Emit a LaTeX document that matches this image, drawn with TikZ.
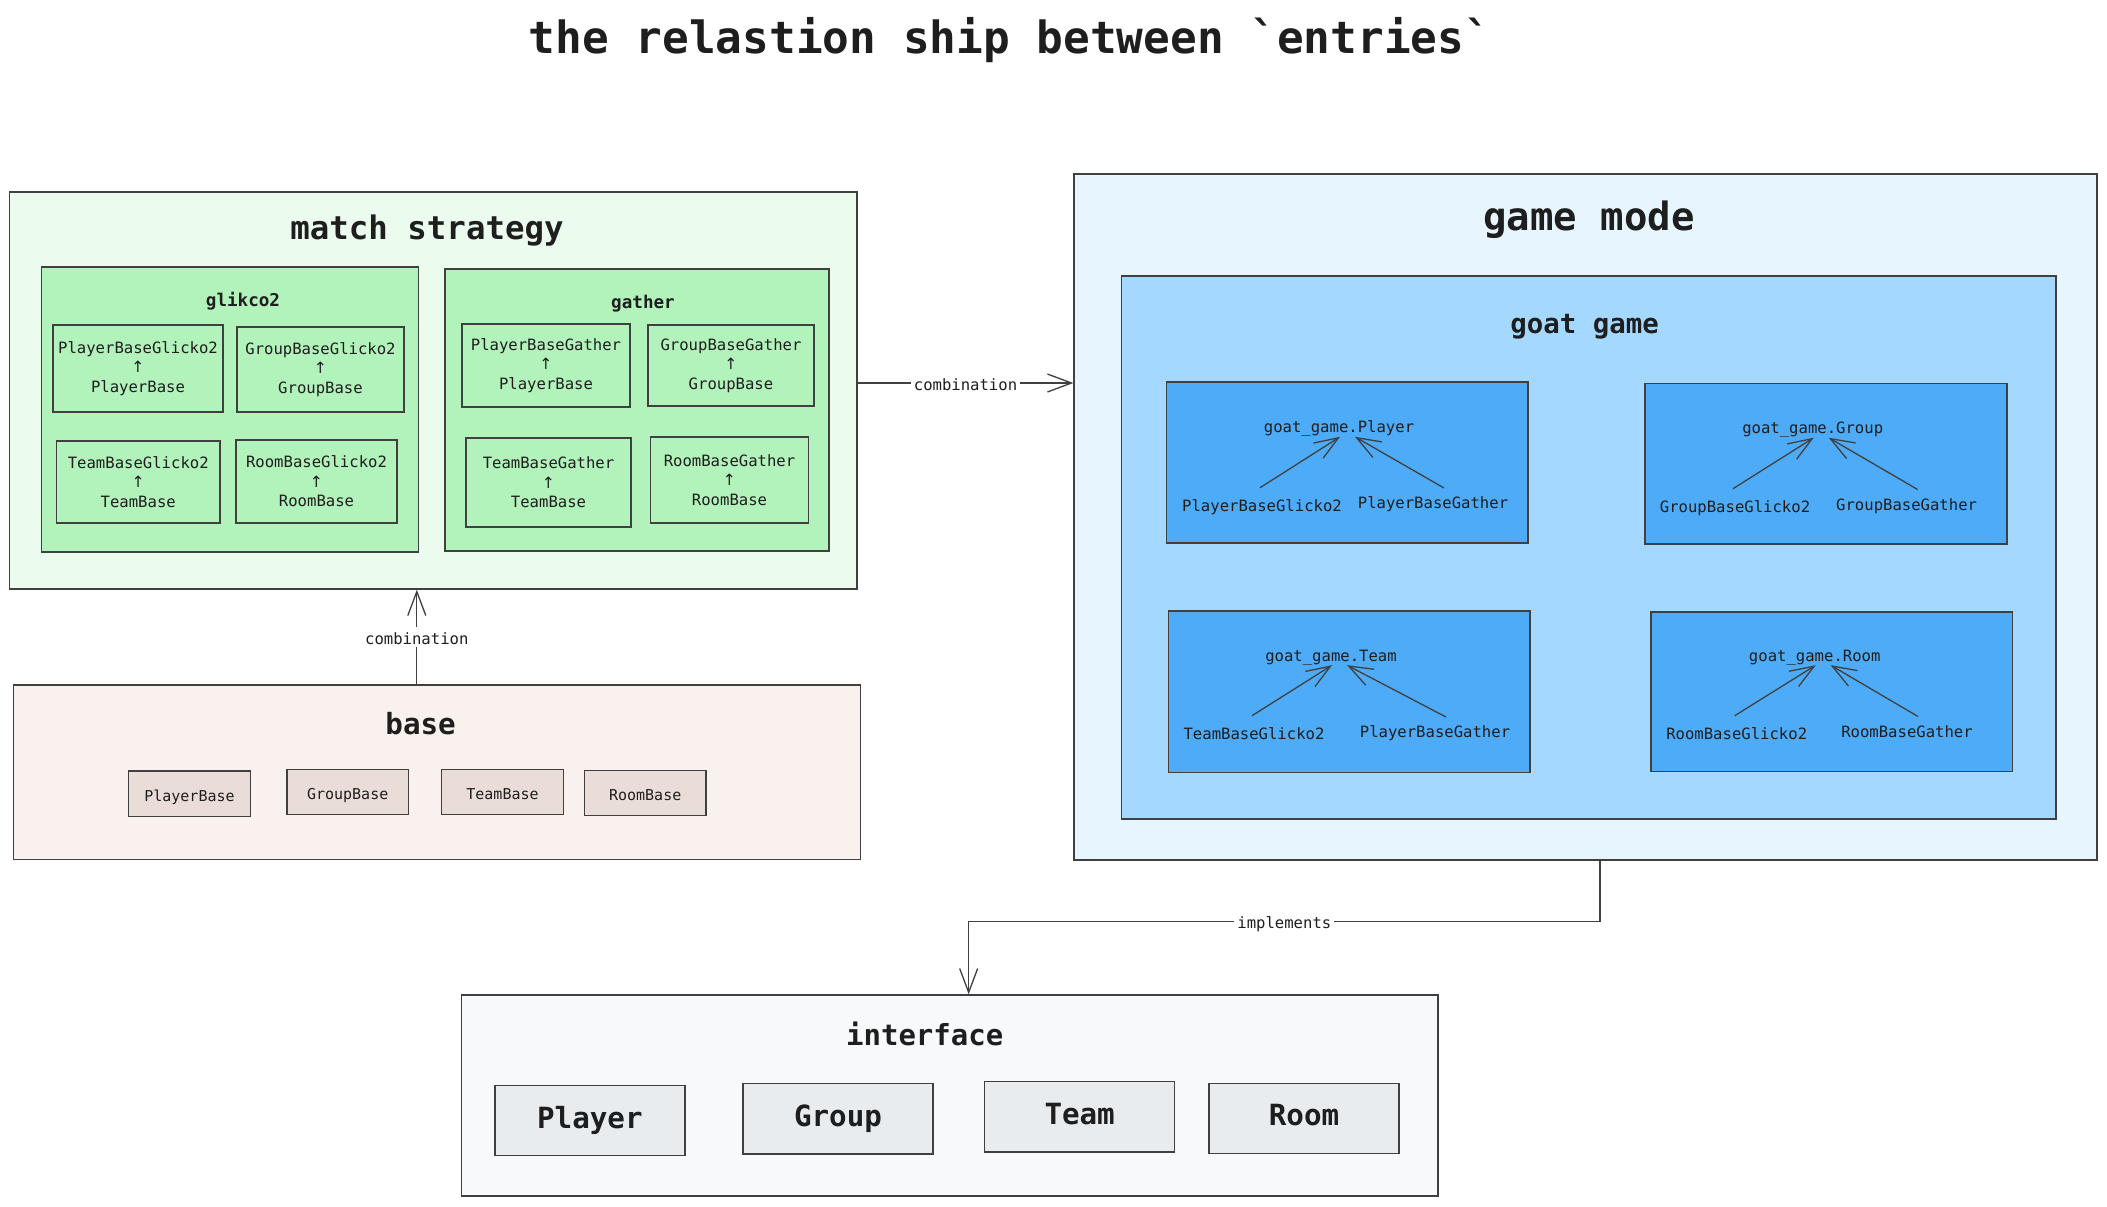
\documentclass[tikz,border=0pt]{standalone}
\usepackage{fontspec}
\setmonofont{DejaVu Sans Mono}
\renewcommand{\familydefault}{\ttdefault}
\newfontfamily\arrowfont{DejaVu Sans}
\newcommand{\uparr}{{\arrowfont ↑}}
\usetikzlibrary{arrows.meta}
\definecolor{ink}{HTML}{1E1E1E}
\definecolor{msfill}{HTML}{EBFBEE}
\definecolor{grn}{HTML}{B2F2BB}
\definecolor{gmfill}{HTML}{E7F5FF}
\definecolor{ggfill}{HTML}{A5D8FF}
\definecolor{gin}{HTML}{4DABF7}
\definecolor{basefill}{HTML}{F8F1EE}
\definecolor{bin}{HTML}{EADDD7}
\definecolor{ifcfill}{HTML}{F8F9FA}
\definecolor{iin}{HTML}{E9ECEF}
\begin{document}
\begin{tikzpicture}[x=0.5pt,y=-0.5pt,
  every node/.style={text=ink},
  wh/.style 2 args={minimum width=#1*0.5pt, minimum height=#2*0.5pt},
  box/.style={draw=ink!85, line width=0.7pt, rectangle, inner sep=0pt},
  capc/.style={text height=0.73em, text depth=0pt},
  ttl/.style={inner sep=0pt, anchor=base},
  small/.style={font=\ttfamily\fontsize{7.8}{9.75}\selectfont},
  gbox/.style={box, fill=grn, small, align=center},
  lbl/.style={small, capc, inner sep=0pt},
  elbl/.style={small, capc, inner sep=1.5pt, fill=white},
  bbox/.style={box, fill=bin, font=\ttfamily\fontsize{7.5}{9}\selectfont, capc},
  ibox/.style={box, fill=iin, font=\ttfamily\fontsize{14.6}{17}\selectfont\bfseries, capc},
  arr/.style={draw=ink!85, line width=0.65pt, -{Straight Barb[length=12pt,width=9pt]}}
]
\useasboundingbox (0,0) rectangle (2107,1206);

% title
\node[ttl, font=\ttfamily\fontsize{22.2}{26}\selectfont\bfseries] (title) at (1010,53.3) {the relastion ship between `entries`};

% match strategy
\node[box, fill=msfill, wh={847.6}{397}] (ms) at (433.2,390.5) {};
\node[ttl, font=\ttfamily\fontsize{16.2}{19}\selectfont\bfseries] (mst) at (427,239) {match strategy};
\node[box, fill=grn, wh={377}{285}] (gl) at (230,409.5) {};
\node[ttl, font=\ttfamily\fontsize{8.8}{10}\selectfont\bfseries] (glt) at (243,306) {glikco2};
\node[box, fill=grn, wh={384}{282}] (ga) at (637,410) {};
\node[ttl, font=\ttfamily\fontsize{8.8}{10}\selectfont\bfseries] (gat) at (643,308) {gather};

\node[gbox, wh={170}{87}] (pbgl) at (138,368.5) {PlayerBaseGlicko2\\\uparr\\PlayerBase};
\node[gbox, wh={167}{85}] (gbgl) at (320.5,369.5) {GroupBaseGlicko2\\\uparr\\GroupBase};
\node[gbox, wh={163.5}{82}] (tbgl) at (138.25,482) {TeamBaseGlicko2\\\uparr\\TeamBase};
\node[gbox, wh={161}{83}] (rbgl) at (316.5,481.5) {RoomBaseGlicko2\\\uparr\\RoomBase};
\node[gbox, wh={168}{83}] (pbga) at (546,365.5) {PlayerBaseGather\\\uparr\\PlayerBase};
\node[gbox, wh={166}{81}] (gbga) at (731,365.5) {GroupBaseGather\\\uparr\\GroupBase};
\node[gbox, wh={165}{89}] (tbga) at (548.5,482.5) {TeamBaseGather\\\uparr\\TeamBase};
\node[gbox, wh={158}{86}] (rbga) at (729.5,480) {RoomBaseGather\\\uparr\\RoomBase};

% game mode
\node[box, fill=gmfill, wh={1023}{686}] (gm) at (1585.5,517) {};
\node[ttl, font=\ttfamily\fontsize{19.5}{23}\selectfont\bfseries] (gmt) at (1589,230.5) {game mode};
\node[box, fill=ggfill, wh={934.4}{543}] (gg) at (1588.8,547.5) {};
\node[ttl, font=\ttfamily\fontsize{13.7}{16}\selectfont\bfseries] (ggt) at (1584.5,333) {goat game};

\node[box, fill=gin, wh={361.4}{161}] (gp) at (1347.3,462.5) {};
\node[box, fill=gin, wh={362}{160.3}] (ggr) at (1826,463.9) {};
\node[box, fill=gin, wh={361.5}{161.5}] (gt) at (1349.25,691.75) {};
\node[box, fill=gin, wh={361.5}{159.8}] (gr) at (1831.75,691.7) {};

\node[lbl] (gpt) at (1339,425.6) {goat\_game.Player};
\node[lbl] (gpa) at (1262,504) {PlayerBaseGlicko2};
\node[lbl] (gpb) at (1433,501.5) {PlayerBaseGather};
\node[lbl] (ggrt) at (1812.7,426.5) {goat\_game.Group};
\node[lbl] (ggra) at (1735,505) {GroupBaseGlicko2};
\node[lbl] (ggrb) at (1906.6,503) {GroupBaseGather};
\node[lbl] (gtt) at (1331,654) {goat\_game.Team};
\node[lbl] (gta) at (1254,732) {TeamBaseGlicko2};
\node[lbl] (gtb) at (1435,730.5) {PlayerBaseGather};
\node[lbl] (grt) at (1814.7,654) {goat\_game.Room};
\node[lbl] (gra) at (1736.7,732) {RoomBaseGlicko2};
\node[lbl] (grb) at (1907,730) {RoomBaseGather};

\foreach \t/\a/\b in {gpt/gpa/gpb, ggrt/ggra/ggrb, gtt/gta/gtb, grt/gra/grb}{
  \draw[arr] ([xshift=-1pt,yshift=8.15pt]\a.center) -- ([xshift=0.5pt,yshift=-5.6pt]\t.center);
  \draw[arr] ([xshift=5.5pt,yshift=6.75pt]\b.center) -- ([xshift=8pt,yshift=-5.6pt]\t.center);
}

% base
\node[box, fill=basefill, wh={847}{174.5}] (base) at (437,772.25) {};
\node[ttl, font=\ttfamily\fontsize{14.6}{17}\selectfont\bfseries] (baset) at (420.6,734) {base};
\node[bbox, wh={121.6}{45.7}] (bP) at (189.5,793.85) {PlayerBase};
\node[bbox, wh={121.4}{45}] (bG) at (347.7,792.2) {GroupBase};
\node[bbox, wh={121.6}{45}] (bT) at (502.5,791.8) {TeamBase};
\node[bbox, wh={121.6}{45}] (bR) at (645.2,792.8) {RoomBase};

% interface
\node[box, fill=ifcfill, wh={976.3}{201}] (ifc) at (949.85,1095.5) {};
\node[ttl, font=\ttfamily\fontsize{14.5}{17}\selectfont\bfseries] (ifct) at (924.7,1045) {interface};
\node[ibox, wh={190.2}{70}] (iP) at (589.9,1120.7) {Player};
\node[ibox, wh={190}{70.3}] (iG) at (838,1118.85) {Group};
\node[ibox, wh={190}{70.3}] (iT) at (1079.65,1116.85) {Team};
\node[ibox, wh={190}{69.6}] (iR) at (1304,1118.5) {Room};

% connectors
\draw[arr] ([yshift=3.75pt]ms.east) -- ([yshift=3.75pt]ms.east -| gm.west)
  node[midway, elbl] {combination};
\draw[arr] ([xshift=-10.1pt]base.north) -- ([xshift=-10.1pt]base.north |- ms.south)
  node[midway, elbl] {combination};
\draw[arr] ([xshift=7.25pt]gm.south) -- ++(0,60.7) -| ([xshift=9.4pt]ifc.north)
  node[pos=0.25, elbl] {implements};
\end{tikzpicture}
\end{document}
